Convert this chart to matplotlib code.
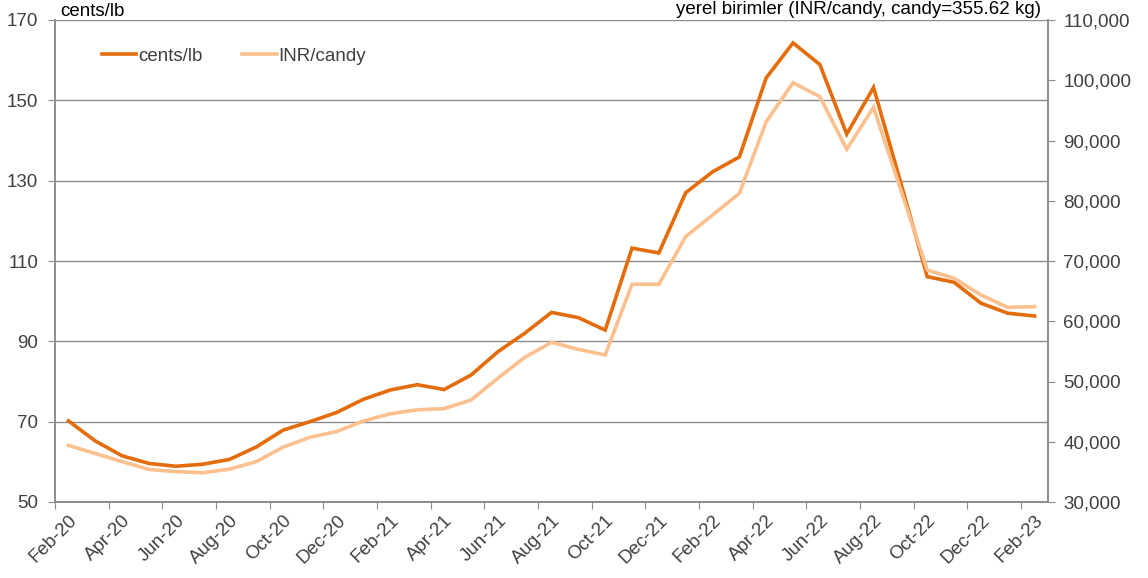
import matplotlib
matplotlib.use('Agg')
import matplotlib.pyplot as plt
from matplotlib.ticker import FuncFormatter

plt.rcParams['font.family'] = ['Liberation Sans', 'DejaVu Sans']

months = ['Feb-20', 'Mar-20', 'Apr-20', 'May-20', 'Jun-20', 'Jul-20', 'Aug-20', 'Sep-20',
          'Oct-20', 'Nov-20', 'Dec-20', 'Jan-21', 'Feb-21', 'Mar-21', 'Apr-21', 'May-21',
          'Jun-21', 'Jul-21', 'Aug-21', 'Sep-21', 'Oct-21', 'Nov-21', 'Dec-21', 'Jan-22',
          'Feb-22', 'Mar-22', 'Apr-22', 'May-22', 'Jun-22', 'Jul-22', 'Aug-22', 'Sep-22',
          'Oct-22', 'Nov-22', 'Dec-22', 'Jan-23', 'Feb-23']

cents_lb = [70.2, 65.2, 61.5, 59.6, 58.9, 59.4, 60.6, 63.7, 67.9, 70.0, 72.3, 75.6,
            77.9, 79.2, 78.0, 81.6, 87.4, 92.0, 97.2, 95.9, 92.8, 113.2, 112.0, 127.0,
            132.2, 135.9, 155.6, 164.3, 158.9, 141.6, 153.2, 129.8, 106.1, 104.7, 99.5,
            97.0, 96.3]

inr_candy = [39400, 38050, 36700, 35400, 35050, 34850, 35450, 36700, 39100, 40750,
             41700, 43450, 44650, 45300, 45500, 46930, 50530, 54000, 56500, 55340,
             54400, 66130, 66130, 74050, 77630, 81230, 93120, 99600, 97270, 88540,
             95510, 82000, 68500, 67130, 64350, 62310, 62420]

dark = '#E46C0A'
light = '#FBC08E'
grey = '#8C8C8C'
txt = '#404040'
fs = 13.5

fig = plt.figure(figsize=(11.48, 5.78), dpi=100)
ax = fig.add_axes([55 / 1148, 1 - 502 / 578, 993 / 1148, 482 / 578])
ax2 = ax.twinx()

x = list(range(len(months)))
l1, = ax.plot(x, cents_lb, color=dark, lw=2.6, label='cents/lb', solid_joinstyle='miter')
l2, = ax2.plot(x, inr_candy, color=light, lw=2.6, label='INR/candy', solid_joinstyle='miter')

ax.set_xlim(-0.5, len(months) - 0.5)
ax.set_ylim(50, 170)
ax.set_yticks(range(50, 171, 20))
ax2.set_ylim(30000, 110000)
ax2.set_yticks(range(30000, 110001, 10000))
ax2.yaxis.set_major_formatter(FuncFormatter(lambda v, p: f'{int(v):,}'))

ax.grid(axis='y', color=grey, lw=1)
ax.set_axisbelow(True)

# ticks at category boundaries, labels centred on categories
ax.set_xticks([i - 0.5 for i in range(0, len(months), 2)])
ax.set_xticklabels([])
ax.set_xticks(x[::2], minor=True)
ax.set_xticklabels(months[::2], minor=True, rotation=45, ha='right',
                   rotation_mode='anchor', fontsize=fs, color=txt)
ax.tick_params(axis='x', which='minor', length=0, pad=7)
ax.tick_params(axis='x', which='major', length=5, color=grey, direction='out')
ax.tick_params(axis='y', labelsize=fs, labelcolor=txt, color=grey, length=5, pad=7)
ax2.tick_params(axis='y', labelsize=fs, labelcolor=txt, color=grey, length=5, pad=6)

for a in (ax, ax2):
    a.spines['top'].set_visible(False)
    for s in ('left', 'right', 'bottom'):
        a.spines[s].set_color(grey)
        a.spines[s].set_linewidth(1.2)

fig.text(60 / 1148, 1 - 11 / 578, 'cents/lb', fontsize=fs, color='black', va='center')
fig.text(1041 / 1148, 1 - 10 / 578, 'yerel birimler (INR/candy, candy=355.62 kg)',
         fontsize=fs, color='black', va='center', ha='right')

ax2.legend(handles=[l1, l2], loc='upper left', bbox_to_anchor=(0.03, 0.978), ncol=2,
           frameon=False, fontsize=fs, handlelength=1.85, handletextpad=0.1,
           columnspacing=2.1, labelcolor=txt)

fig.savefig('out.png', dpi=100)
